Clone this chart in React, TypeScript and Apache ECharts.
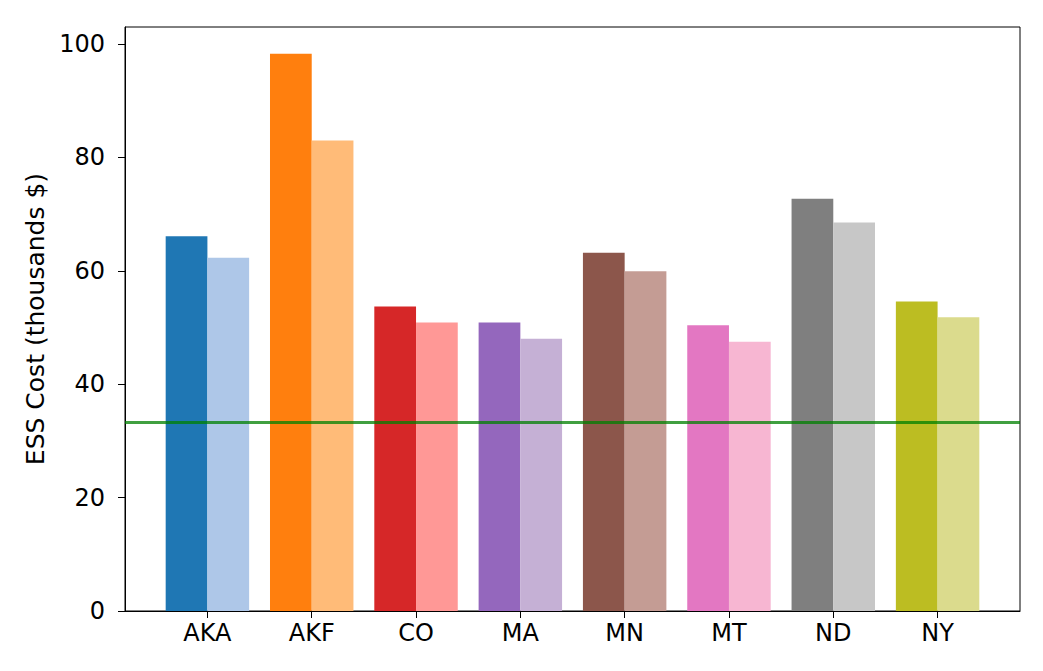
import React, { useEffect, useRef } from "react";
import * as echarts from "echarts";

// Sites and their ESS cost (thousands $), two scenarios per site
const categories = ["AKA", "AKF", "CO", "MA", "MN", "MT", "ND", "NY"];
const costPrimary = [66.1, 98.3, 53.7, 50.9, 63.2, 50.4, 72.7, 54.6];
const costSecondary = [62.3, 83.0, 50.9, 48.0, 59.9, 47.5, 68.5, 51.8];
const referenceCost = 33.3;

// tab20 colour pairs (dark / light) per site
const darkColors = ["#1f77b4", "#ff7f0e", "#d62728", "#9467bd", "#8c564b", "#e377c2", "#7f7f7f", "#bcbd22"];
const lightColors = ["#aec7e8", "#ffbb78", "#ff9896", "#c5b0d5", "#c49c94", "#f7b6d2", "#c7c7c7", "#dbdb8d"];

const BAR_W = 0.4;
const FONT = "DejaVu Sans";

function barRenderer(offset: number, colors: string[]) {
  return (params: any, api: any) => {
    const i = api.value(0);
    const v = api.value(1);
    const p1 = api.coord([i + offset, v]);
    const p2 = api.coord([i + offset + BAR_W, 0]);
    return {
      type: "rect",
      shape: { x: p1[0], y: p1[1], width: p2[0] - p1[0], height: p2[1] - p1[1] },
      style: { fill: colors[i] },
    };
  };
}

export default function App() {
  const ref = useRef<HTMLDivElement>(null);

  useEffect(() => {
    if (!ref.current) return;
    const chart = echarts.init(ref.current, undefined, { renderer: "svg" });
    const idx = categories.map((_, i) => i);
    chart.setOption({
      animation: false,
      backgroundColor: "#ffffff",
      textStyle: { fontFamily: FONT },
      grid: {
        left: 117,
        right: 15,
        top: 19,
        bottom: 52,
        show: true,
        borderColor: "#000000",
        borderWidth: 1,
        backgroundColor: "transparent",
      },
      xAxis: {
        type: "value",
        min: -0.79,
        max: 7.79,
        splitLine: { show: false },
        axisLine: { show: true, onZero: false, lineStyle: { color: "#000", width: 1 } },
        axisTick: {
          show: true,
          customValues: idx,
          length: 7,
          lineStyle: { color: "#000", width: 1 },
        },
        axisLabel: {
          customValues: idx,
          formatter: (v: number) => categories[Math.round(v)] ?? "",
          color: "#000",
          fontSize: 24,
          fontFamily: FONT,
          margin: 10,
        },
      },
      yAxis: {
        type: "value",
        min: 0,
        max: 103,
        interval: 20,
        name: "ESS Cost (thousands $)",
        nameLocation: "middle",
        nameGap: 76,
        nameTextStyle: { color: "#000", fontSize: 25, fontFamily: FONT },
        splitLine: { show: false },
        axisLine: { show: true, onZero: false, lineStyle: { color: "#000", width: 1 } },
        axisTick: { show: true, length: 7, lineStyle: { color: "#000", width: 1 } },
        axisLabel: { color: "#000", fontSize: 24, fontFamily: FONT, margin: 20 },
      },
      series: [
        {
          type: "custom",
          name: "primary",
          renderItem: barRenderer(-BAR_W, darkColors),
          encode: { x: 0, y: 1 },
          data: costPrimary.map((v, i) => [i, v]),
          z: 2,
        },
        {
          type: "custom",
          name: "secondary",
          renderItem: barRenderer(0, lightColors),
          encode: { x: 0, y: 1 },
          data: costSecondary.map((v, i) => [i, v]),
          z: 2,
          markLine: {
            silent: true,
            symbol: "none",
            label: { show: false },
            lineStyle: { color: "rgba(0,128,0,0.75)", width: 3, type: "solid" },
            data: [{ yAxis: referenceCost }],
            z: 5,
          },
        },
      ],
    });
    return () => chart.dispose();
  }, []);

  return <div ref={ref} style={{ width: 1027, height: 655 }} />;
}
